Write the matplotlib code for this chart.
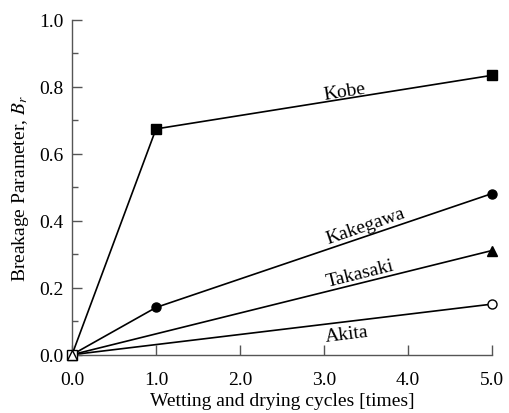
import numpy as np
import matplotlib
matplotlib.use("Agg")
import matplotlib.pyplot as plt

plt.rcParams['font.family'] = ['Liberation Serif', 'DejaVu Serif']
plt.rcParams['mathtext.fontset'] = 'stix'

# data
x_kobe = [0, 1, 5]
y_kobe = [0, 0.674, 0.834]
x_kake = [0, 1, 5]
y_kake = [0, 0.141, 0.481]
x_taka = [0, 5]
y_taka = [0, 0.311]
x_akita = [0, 5]
y_akita = [0, 0.151]

fs = 14

fig = plt.figure(figsize=(5.09, 4.14), dpi=100)
ax = fig.add_axes([0.1415, 0.1408, 0.8251, 0.8092])

lw = 1.2
ms = 6.5
ax.plot(x_kobe, y_kobe, color='k', lw=lw, marker='s', ms=ms, markevery=[1, 2], clip_on=False, zorder=3)
ax.plot(x_kake, y_kake, color='k', lw=lw, marker='o', ms=ms, markevery=[1, 2], clip_on=False, zorder=3)
ax.plot(x_taka, y_taka, color='k', lw=lw, marker='^', ms=ms, markevery=[1], clip_on=False, zorder=3)
ax.plot(x_akita, y_akita, color='k', lw=lw, marker='o', ms=ms, mfc='white', markevery=[1], clip_on=False, zorder=3)
# open markers at the origin
ax.plot([x_kobe[0]], [y_kobe[0]], marker='s', ms=ms + 1, mfc='white', mec='k', mew=1.0, clip_on=False, zorder=4)
ax.plot([x_taka[0]], [y_taka[0]], marker='^', ms=ms, mfc='white', mec='k', mew=1.0, clip_on=False, zorder=5)

ax.set_xlim(0, 5)
ax.set_ylim(0, 1.0)
ax.set_xticks(np.arange(0, 5.01, 1))
ax.set_xticklabels(['0.0', '1.0', '2.0', '3.0', '4.0', '5.0'])
ax.set_yticks(np.arange(0, 1.01, 0.2))
ax.set_yticklabels(['0.0', '0.2', '0.4', '0.6', '0.8', '1.0'])
ax.set_yticks(np.arange(0.1, 1.0, 0.2), minor=True)

for s in ['top', 'right']:
    ax.spines[s].set_visible(False)
for s in ['left', 'bottom']:
    ax.spines[s].set_color('#555555')
    ax.spines[s].set_linewidth(1.0)
ax.tick_params(which='major', direction='in', length=7, width=1.0, color='#555555', labelsize=fs)
ax.tick_params(axis='x', which='major', pad=12)
ax.tick_params(axis='y', which='major', pad=6)
ax.tick_params(which='minor', direction='in', length=4, width=1.0, color='#555555')

ax.set_xlabel('Wetting and drying cycles [times]', fontsize=fs)
ax.set_ylabel('Breakage Parameter, $B_r$', fontsize=fs)
ax.xaxis.set_label_coords(0.5, -0.11)
ax.yaxis.set_label_coords(-0.097, 0.5)

ax.text(3.25, 0.785, 'Kobe', rotation=9, ha='center', va='center', fontsize=fs)
ax.text(3.5, 0.385, 'Kakegawa', rotation=19, ha='center', va='center', fontsize=fs)
ax.text(3.43, 0.243, 'Takasaki', rotation=14, ha='center', va='center', fontsize=fs)
ax.text(3.27, 0.062, 'Akita', rotation=7, ha='center', va='center', fontsize=fs)

fig.savefig('out.png', dpi=100)
